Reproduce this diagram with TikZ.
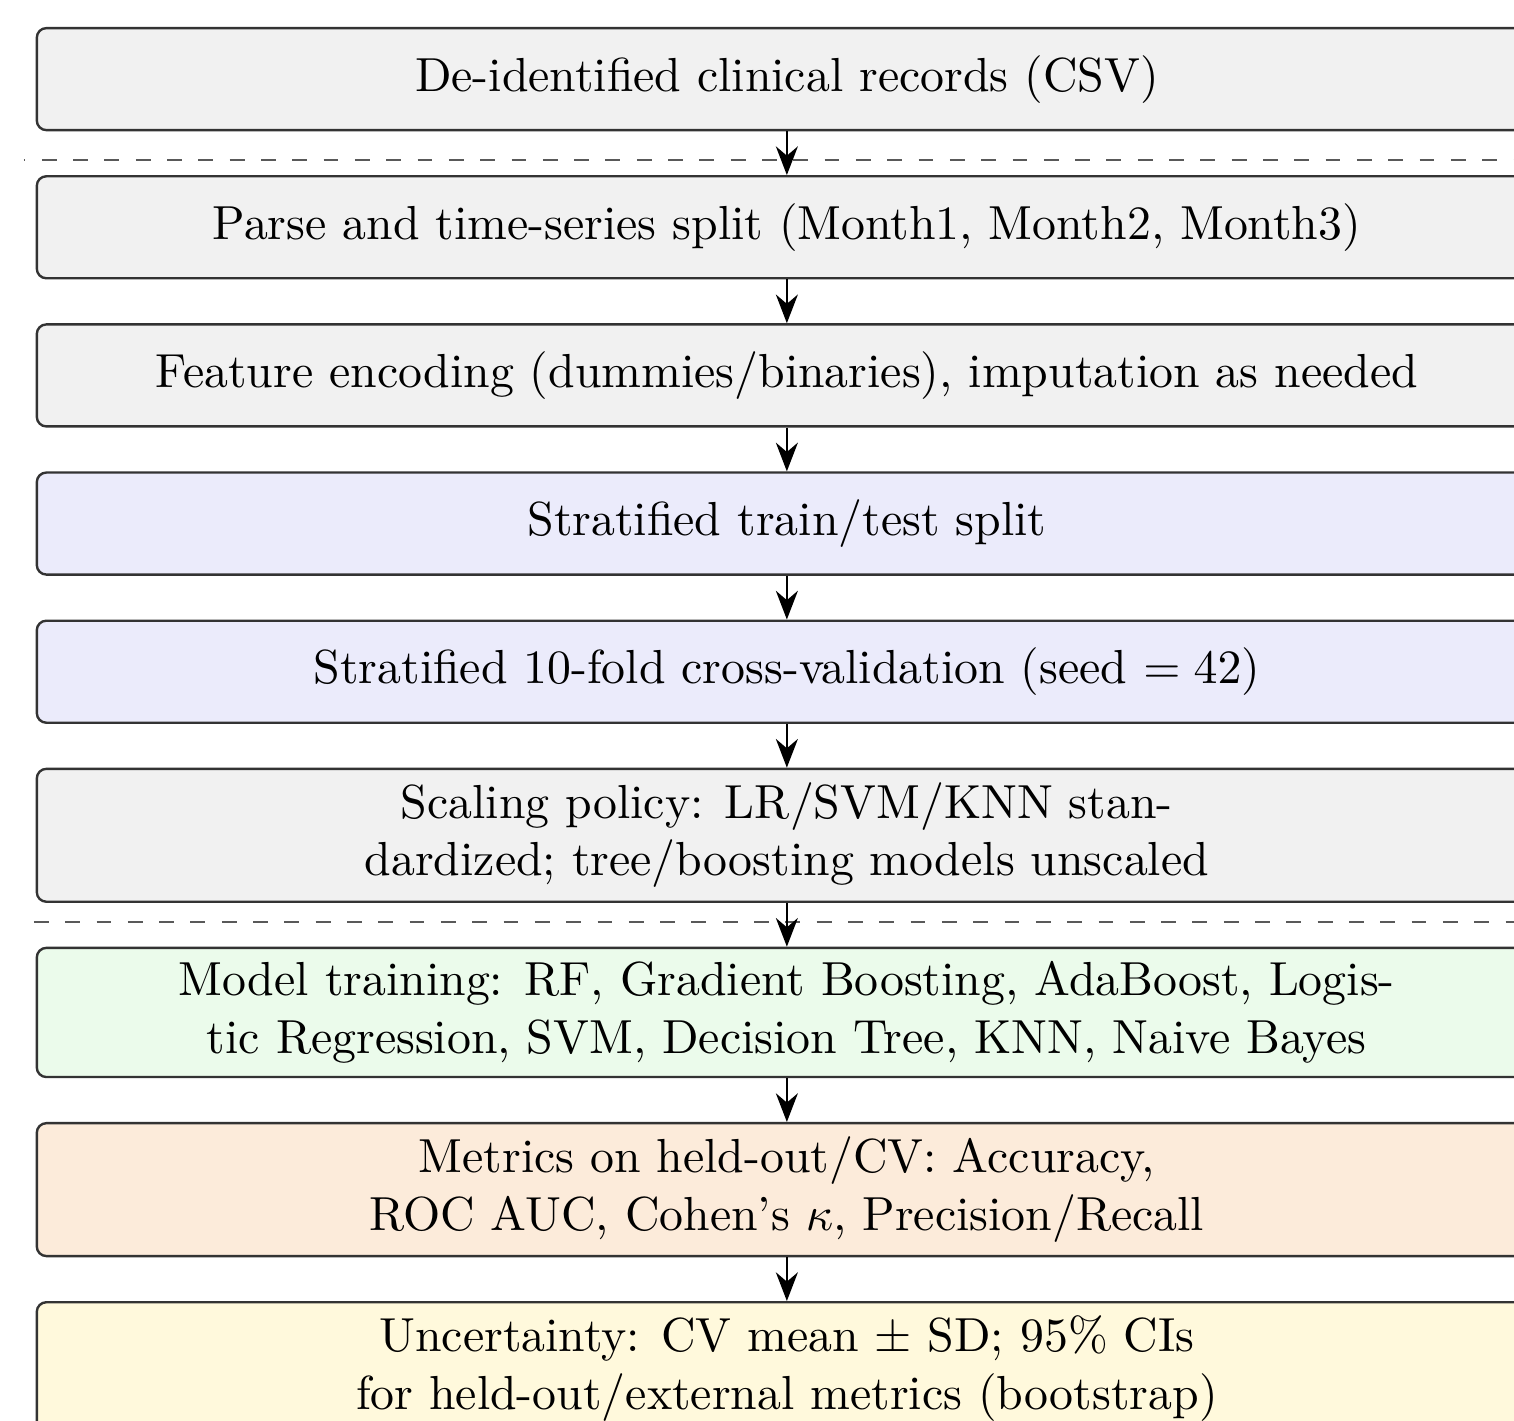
\documentclass[tikz,border=0pt]{standalone}
\usepackage{tikz}
\usepackage{xcolor}
\usetikzlibrary{arrows.meta, positioning, calc}
\definecolor{stGray}{HTML}{F1F1F1}
\definecolor{stBlue}{HTML}{EBEBFB}
\definecolor{stGreen}{HTML}{EBFBEB}
\definecolor{stOrange}{HTML}{FCEBDA}
\definecolor{stYellow}{HTML}{FFF9DC}
\definecolor{stLine}{HTML}{333333}

\begin{document}
\begin{tikzpicture}[
  node distance=9.15pt,
  stage/.style={draw=stLine, rectangle, rounded corners=2pt, minimum height=0.75cm, minimum width=313.8pt, inner ysep=2.9pt, align=center, line width=0.5pt, fill=stGray},
  flow/.style={-{Stealth[length=6pt, width=4.6pt]}, line width=0.5pt, draw=black},
  sep/.style={dash pattern=on 3.1pt off 3.45pt, line width=0.5pt, draw=black!65}
]
\useasboundingbox (0,0) rectangle (316.7pt,-297.1pt);
\node[stage, anchor=north] (raw) at (164.6pt,-5.63pt) {De-identified clinical records (CSV)};
\node[stage, below=of raw] (parse) {Parse and time-series split (Month1, Month2, Month3)};
\node[stage, below=of parse] (encode) {Feature encoding (dummies/binaries), imputation as needed};
\node[stage, below=of encode, fill=stBlue] (split) {Stratified train/test split};
\node[stage, below=of split, fill=stBlue] (cv) {Stratified 10-fold cross-validation (seed $= 42$)};
\node[stage, below=of cv] (scale) {Scaling policy: LR/SVM/KNN stan-\\dardized; tree/boosting models unscaled};
\node[stage, below=of scale, fill=stGreen] (train) {Model training: RF, Gradient Boosting, AdaBoost, Logis-\\tic Regression, SVM, Decision Tree, KNN, Naive Bayes};
\node[stage, below=of train, fill=stOrange] (metrics) {Metrics on held-out/CV: Accuracy,\\ROC AUC, Cohen's $\kappa$, Precision/Recall};
\node[stage, below=of metrics, fill=stYellow] (ci) {Uncertainty: CV mean $\pm$ SD; 95\% CIs\\for held-out/external metrics (bootstrap)};
% stage separators
\draw[sep, dash phase=2.8pt] ([xshift=-2.45pt]$(raw.south west)!0.66!(parse.north west)$) -- ++(330pt,0);
\draw[sep] ([xshift=-0.36pt]$(scale.south west)!0.44!(train.north west)$) -- ++(330pt,0);
\draw[flow] (raw) -- (parse);
\draw[flow] (parse) -- (encode);
\draw[flow] (encode) -- (split);
\draw[flow] (split) -- (cv);
\draw[flow] (cv) -- (scale);
\draw[flow] (scale) -- (train);
\draw[flow] (train) -- (metrics);
\draw[flow] (metrics) -- (ci);
\end{tikzpicture}
\end{document}
